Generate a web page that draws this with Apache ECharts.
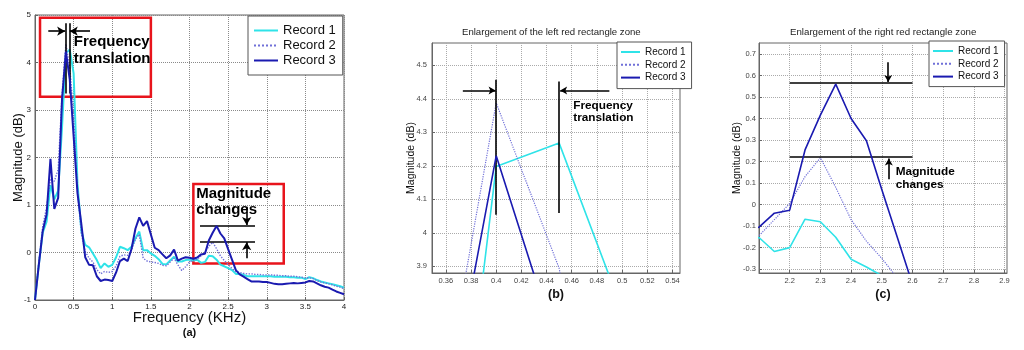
<!DOCTYPE html>
<html><head><meta charset="utf-8">
<script src="https://cdn.jsdelivr.net/npm/echarts@6/dist/echarts.min.js"></script>
<style>html,body{margin:0;padding:0;background:#fff}#c{width:1024px;height:350px}</style>
</head><body><div id="c"></div>
<script>
// ---- data ----
const freq = [0,0.05,0.1,0.15,0.2,0.25,0.3,0.35,0.4,0.45,0.5,0.55,0.6,0.65,0.7,0.75,0.8,0.85,0.9,0.95,
  1,1.05,1.1,1.15,1.2,1.25,1.3,1.35,1.4,1.45,1.5,1.55,1.6,1.65,1.7,1.75,1.8,1.85,1.9,1.95,
  2,2.05,2.1,2.15,2.2,2.25,2.3,2.35,2.4,2.45,2.5,2.55,2.6,2.65,2.7,2.75,2.8,2.85,2.9,2.95,
  3,3.05,3.1,3.15,3.2,3.25,3.3,3.35,3.4,3.45,3.5,3.55,3.6,3.65,3.7,3.75,3.8,3.85,3.9,3.95,4];
const record1 = [-1.00,-0.25,0.42,0.65,1.42,1.12,1.30,2.64,4.198,4.268,3.77,1.45,0.45,0.16,0.11,-0.02,-0.16,-0.33,-0.23,-0.30,
  -0.26,-0.10,0.12,0.09,0.05,0.12,0.30,0.44,0.05,0.05,-0.02,-0.07,-0.14,-0.24,-0.25,-0.17,-0.09,-0.19,-0.19,-0.16,
  -0.15,-0.17,-0.153,-0.218,-0.20,-0.068,-0.08,-0.152,-0.254,-0.29,-0.33,-0.37,-0.45,-0.45,-0.47,-0.50,-0.50,-0.50,-0.50,-0.50,
  -0.50,-0.50,-0.51,-0.51,-0.51,-0.51,-0.52,-0.52,-0.53,-0.53,-0.56,-0.52,-0.54,-0.58,-0.61,-0.63,-0.65,-0.67,-0.69,-0.71,-0.74];
const record2 = [-1.00,-0.20,0.55,0.95,1.55,1.50,1.75,3.33,4.388,3.894,2.90,1.30,0.40,0.02,-0.12,-0.20,-0.36,-0.45,-0.40,-0.42,
  -0.40,-0.28,-0.08,-0.05,-0.06,0.05,0.28,0.38,-0.12,-0.18,-0.20,-0.21,-0.23,-0.27,-0.28,-0.20,-0.12,-0.26,-0.38,-0.30,
  -0.20,-0.16,-0.145,-0.07,0.005,0.13,0.218,0.08,-0.07,-0.17,-0.25,-0.34,-0.40,-0.42,-0.44,-0.45,-0.45,-0.46,-0.46,-0.47,
  -0.47,-0.47,-0.48,-0.48,-0.49,-0.49,-0.50,-0.50,-0.51,-0.52,-0.54,-0.53,-0.55,-0.59,-0.62,-0.64,-0.66,-0.68,-0.71,-0.73,-0.76];
const record3 = [-1.00,-0.25,0.45,0.80,1.97,0.92,1.15,3.225,4.23,3.64,2.45,1.25,0.60,-0.10,-0.26,-0.27,-0.50,-0.60,-0.57,-0.58,
  -0.60,-0.42,-0.18,-0.13,-0.18,0.08,0.50,0.74,0.56,0.66,0.38,0.10,0.05,-0.04,-0.12,-0.06,0.06,-0.17,-0.13,-0.10,
  -0.11,-0.13,-0.105,-0.04,-0.026,0.254,0.416,0.56,0.40,0.297,0.07,-0.15,-0.37,-0.46,-0.51,-0.56,-0.61,-0.61,-0.61,-0.62,
  -0.62,-0.64,-0.66,-0.67,-0.67,-0.66,-0.65,-0.64,-0.65,-0.64,-0.63,-0.60,-0.61,-0.65,-0.69,-0.72,-0.74,-0.78,-0.82,-0.85,-0.88];
const seriesNames = ['Record 1','Record 2','Record 3'];
const ticksBX = [0.36,0.38,0.40,0.42,0.44,0.46,0.48,0.50,0.52,0.54];
const ticksBY = [3.9,4.0,4.1,4.2,4.3,4.4,4.5];
const ticksCX = [2.2,2.3,2.4,2.5,2.6,2.7,2.8,2.9];
const ticksCY = [-0.3,-0.2,-0.1,0,0.1,0.2,0.3,0.4,0.5,0.6,0.7];
const titleB = 'Enlargement of the left red rectangle zone';
const titleC = 'Enlargement of the right red rectangle zone';
// annotations (data units)
const segA = [[[0.392,3.35],[0.392,4.825]],[[0.444,3.35],[0.444,4.825]],[[2.136,0.564],[2.848,0.564]],[[2.136,0.228],[2.848,0.228]]];
const arrowsA = [[[0.172,4.66],[0.39,4.66]],[[0.712,4.66],[0.45,4.66]],[[2.74,0.964],[2.74,0.58]],[[2.74,-0.12],[2.74,0.215]]];
const boxesA = [[[0.065,3.28],[1.5,4.94]],[[2.05,-0.23],[3.22,1.44]]];
const textsA = [[0.496,4.263,'Frequency\ntranslation'],[2.08,1.065,'Magnitude\nchanges']];
const segB = [[[0.4,4.054],[0.4,4.457]],[[0.45,4.059],[0.45,4.452]]];
const arrowsB = [[[0.3735,4.425],[0.3995,4.425]],[[0.4899,4.425],[0.4508,4.425]]];
const textsB = [[0.4608,4.361,'Frequency\ntranslation']];
const segC = [[[2.2,0.564],[2.6,0.564]],[[2.2,0.22],[2.6,0.22]]];
const arrowsC = [[[2.521,0.661],[2.521,0.57]],[[2.523,0.118],[2.523,0.214]]];
const textsC = [[2.544,0.123,'Magnitude\nchanges']];

const FONT = 'Liberation Sans, Arial, sans-serif';
const colors = ['#2fe3e8','#7070d8','#1a1ab0'];
const values = [record1, record2, record3];
const fmt = v => String(+(+v).toFixed(2));

function markers(seg, arrows, boxes, texts, fs, lh, arrowSize) {
  const lineData = seg.map(s => [{coord:s[0]},{coord:s[1]}])
    .concat(arrows.map(s => [{coord:s[0]},{coord:s[1], symbol:'arrow', symbolSize:arrowSize}]));
  const m = {
    markLine: {silent:true, animation:false, symbol:['none','none'], label:{show:false},
      lineStyle:{color:'#000', width:1.6, type:'solid'}, emphasis:{disabled:true}, data: lineData},
    markPoint: {silent:true, animation:false, symbol:'rect', symbolSize:1, itemStyle:{color:'rgba(0,0,0,0)'},
      label:{show:true, position:'right', distance:0, fontFamily:FONT, fontWeight:'bold', fontSize:fs, lineHeight:lh, color:'#000', align:'left'},
      data: texts.map(t => ({coord:[t[0],t[1]], label:{formatter:t[2]}}))}
  };
  if (boxes.length) {
    m.markArea = {silent:true, animation:false, itemStyle:{color:'rgba(0,0,0,0)', borderColor:'#e8141c', borderWidth:2.5},
      label:{show:false}, emphasis:{disabled:true}, data: boxes.map(b => [{coord:b[0]},{coord:b[1]}])};
  }
  return m;
}

const series = [];
const widthsA = [2, 1.4, 2];
const widthsB = [1.6, 1.2, 1.6];
[0,1,2].forEach(gi => {
  seriesNames.forEach((name, k) => {
    const s = {
      type:'line', name, xAxisIndex:gi, yAxisIndex:gi, symbol:'none', clip:true, silent:true,
      data: freq.map((f,i) => [f, values[k][i]]),
      color: colors[k],
      lineStyle:{color:colors[k], width:(gi===0?widthsA:widthsB)[k], type: k===1?'dotted':'solid'},
      emphasis:{disabled:true}, z: 3 + k
    };
    if (k === 2) {
      if (gi === 0) Object.assign(s, markers(segA, arrowsA, boxesA, textsA, 15, 16.8, [7,8]));
      if (gi === 1) Object.assign(s, markers(segB, arrowsB, [], textsB, 11.8, 12.3, [6,7]));
      if (gi === 2) Object.assign(s, markers(segC, arrowsC, [], textsC, 11.8, 13.3, [6,7]));
    }
    series.push(s);
  });
});

const axisCommon = (color, gridColor) => ({
  type:'value', nameMoveOverlap:false,
  axisLine:{show:true, onZero:false, lineStyle:{color}},
  axisTick:{show:true, inside:true, length:3, lineStyle:{color}},
  splitLine:{show:true, lineStyle:{type:'dotted', color:gridColor, width:1}},
  nameLocation:'middle'
});

const xAxis = [
  Object.assign(axisCommon('#666','#8a8a8a'), {gridIndex:0, min:0, max:4, interval:0.5,
    axisLabel:{fontSize:8, color:'#222', margin:3, fontFamily:FONT, formatter:fmt},
    name:'{f|Frequency (KHz)}\n{s|(a)}', nameGap:9,
    nameTextStyle:{fontFamily:FONT, color:'#111', rich:{f:{fontSize:15, lineHeight:17, fontFamily:FONT, color:'#111'}, s:{fontSize:11, fontWeight:'bold', lineHeight:14, fontFamily:FONT, color:'#111'}}}}),
  Object.assign(axisCommon('#666','#aaa'), {gridIndex:1, min:0.349, max:0.546,
    axisTick:{show:true, inside:true, length:3, lineStyle:{color:'#666'}, customValues:ticksBX},
    axisLabel:{fontSize:7.5, color:'#444', margin:4, fontFamily:FONT, formatter:fmt, customValues:ticksBX},
    name:'(b)', nameGap:15, nameTextStyle:{fontFamily:FONT, fontSize:12.5, fontWeight:'bold', color:'#111'}}),
  Object.assign(axisCommon('#666','#aaa'), {gridIndex:2, min:2.1, max:2.908,
    axisTick:{show:true, inside:true, length:3, lineStyle:{color:'#666'}, customValues:ticksCX},
    axisLabel:{fontSize:7.5, color:'#444', margin:4, fontFamily:FONT, formatter:fmt, customValues:ticksCX},
    name:'(c)', nameGap:15, nameTextStyle:{fontFamily:FONT, fontSize:12.5, fontWeight:'bold', color:'#111'}})
];
const yAxis = [
  Object.assign(axisCommon('#666','#8a8a8a'), {gridIndex:0, min:-1, max:5, interval:1,
    axisLabel:{fontSize:8, color:'#222', margin:4, fontFamily:FONT, formatter:fmt},
    name:'Magnitude (dB)', nameGap:10, nameTextStyle:{fontFamily:FONT, fontSize:13, color:'#111'}}),
  Object.assign(axisCommon('#666','#aaa'), {gridIndex:1, min:3.88, max:4.567,
    axisTick:{show:true, inside:true, length:3, lineStyle:{color:'#666'}, customValues:ticksBY},
    axisLabel:{fontSize:7.5, color:'#444', margin:5, fontFamily:FONT, formatter:fmt, customValues:ticksBY},
    name:'Magnitude (dB)', nameGap:15, nameTextStyle:{fontFamily:FONT, fontSize:10.5, color:'#111'}}),
  Object.assign(axisCommon('#666','#aaa'), {gridIndex:2, min:-0.318, max:0.751,
    axisTick:{show:true, inside:true, length:3, lineStyle:{color:'#666'}, customValues:ticksCY},
    axisLabel:{fontSize:7.5, color:'#444', margin:3, fontFamily:FONT, formatter:fmt, customValues:ticksCY},
    name:'Magnitude (dB)', nameGap:16, nameTextStyle:{fontFamily:FONT, fontSize:10.5, color:'#111'}})
];

const legendBase = {orient:'vertical', selectedMode:false, borderColor:'#555', borderWidth:1, backgroundColor:'#fff',
  borderRadius:0, data:seriesNames, z:10, itemStyle:{opacity:0}};
const legend = [
  Object.assign({}, legendBase, {left:248, top:16, padding:[8,7,8,5], itemWidth:24, itemHeight:14, itemGap:2,
    textStyle:{fontSize:13, color:'#111', fontFamily:FONT}}),
  Object.assign({}, legendBase, {left:617, top:42, padding:[5,6,6,3], itemWidth:19, itemHeight:11, itemGap:2.8,
    textStyle:{fontSize:10, color:'#111', fontFamily:FONT}}),
  Object.assign({}, legendBase, {left:929, top:41, padding:[5,6,5,3], itemWidth:20, itemHeight:11, itemGap:2.8,
    textStyle:{fontSize:10, color:'#111', fontFamily:FONT}})
];

const option = {
  animation:false,
  backgroundColor:'#fff',
  title:[
    {text:titleB, left:462, top:27, padding:0, textStyle:{fontSize:9.6, fontWeight:'normal', color:'#222', fontFamily:FONT}},
    {text:titleC, left:790, top:27, padding:0, textStyle:{fontSize:9.7, fontWeight:'normal', color:'#222', fontFamily:FONT}}
  ],
  legend,
  grid:[
    {left:35, top:15, width:309, height:285, show:true, borderColor:'#666', borderWidth:1, backgroundColor:'rgba(0,0,0,0)'},
    {left:432, top:43, width:248, height:230, show:true, borderColor:'#666', borderWidth:1, backgroundColor:'rgba(0,0,0,0)'},
    {left:759, top:43, width:248, height:230, show:true, borderColor:'#666', borderWidth:1, backgroundColor:'rgba(0,0,0,0)'}
  ],
  xAxis, yAxis, series
};
const chart = echarts.init(document.getElementById('c'), null, {renderer:'canvas'});
chart.setOption(option);
</script></body></html>
